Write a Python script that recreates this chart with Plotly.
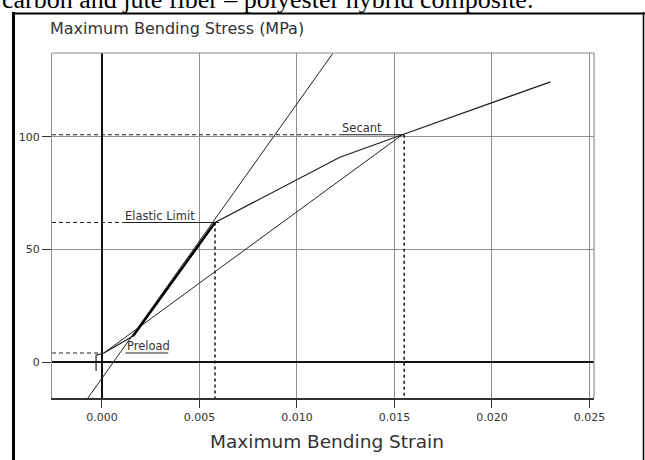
import plotly.graph_objects as go

# ---------------- data ----------------
curve_strain = [0.0001, 0.0016, 0.0058, 0.0100, 0.0122, 0.0154, 0.0230]
curve_stress = [4.0, 11.5, 62.0, 81.0, 91.0, 101.0, 124.5]

linear_strain = [0.0016, 0.0058]
linear_stress = [11.5, 62.0]

modulus_strain = [-0.00072, 0.01185]
modulus_stress = [-16.0, 137.3]

secant_strain = [0.0001, 0.0154]
secant_stress = [4.0, 101.0]

toe_strain = [-0.0003, -0.0003, 0.0001]
toe_stress = [-4.0, 3.0, 4.0]

point_names = ["Preload", "Elastic Limit", "Secant"]
point_strain = [0.0, 0.0058, 0.0155]
point_stress = [4.0, 62.0, 101.0]
label_start = [0.0012, 0.0011, 0.0122]
label_end = [0.0034, 0.0060, 0.0155]

x_ticks = [0.0, 0.005, 0.010, 0.015, 0.020, 0.025]
x_tick_text = ["0.000", "0.005", "0.010", "0.015", "0.020", "0.025"]
y_ticks = [0, 50, 100]
y_tick_text = ["0", "50", "100"]

x_range = [-0.00256, 0.025235]
y_range = [-16.0, 137.33]

caption = "carbon and jute fiber \u2013 polyester hybrid composite."
y_title = "Maximum Bending Stress (MPa)"
x_title = "Maximum Bending Strain"

# ---------------- layout helpers ----------------
W, H = 645, 460
L, R, T, B = 52, 51, 53, 62
PW, PH = W - L - R, H - T - B


def xp(px):
    return (px - L) / PW


def yp(py):
    return (H - B - py) / PH


INK = "#222222"
GRID = "#8f8f8f"
TXT = "#333333"

fig = go.Figure()

# guide lines for the marked points
for name, sx, sy, ls, le in zip(point_names, point_strain, point_stress, label_start, label_end):
    fig.add_trace(go.Scatter(x=[x_range[0], min(ls, sx)], y=[sy, sy], mode="lines",
                             line=dict(color=INK, width=1.2, dash="4px,3px"),
                             hoverinfo="skip", showlegend=False))
    fig.add_trace(go.Scatter(x=[ls, le], y=[sy, sy], mode="lines",
                             line=dict(color=INK, width=1.2),
                             hoverinfo="skip", showlegend=False))
    if name != "Preload":
        fig.add_trace(go.Scatter(x=[sx, sx], y=[sy, y_range[0]], mode="lines",
                                 line=dict(color=INK, width=1.6, dash="3px,3px"),
                                 hoverinfo="skip", showlegend=False))
    fig.add_annotation(x=ls, y=sy, xref="x", yref="y", text=name, showarrow=False,
                       xanchor="left", yanchor="bottom", yshift=-2,
                       font=dict(family="DejaVu Sans", size=11.5, color=TXT))

fig.add_trace(go.Scatter(x=modulus_strain, y=modulus_stress, mode="lines",
                         line=dict(color=INK, width=1), hoverinfo="skip", showlegend=False))
fig.add_trace(go.Scatter(x=secant_strain, y=secant_stress, mode="lines",
                         line=dict(color=INK, width=1), hoverinfo="skip", showlegend=False))
fig.add_trace(go.Scatter(x=curve_strain, y=curve_stress, mode="lines",
                         line=dict(color=INK, width=1.3), hoverinfo="skip", showlegend=False))
fig.add_trace(go.Scatter(x=linear_strain, y=linear_stress, mode="lines",
                         line=dict(color="#000000", width=2.4), hoverinfo="skip", showlegend=False))
fig.add_trace(go.Scatter(x=toe_strain, y=toe_stress, mode="lines",
                         line=dict(color=INK, width=1.2), hoverinfo="skip", showlegend=False))

fig.update_xaxes(range=x_range, tickvals=x_ticks, ticktext=x_tick_text,
                 ticks="outside", ticklen=8, tickwidth=1.2, tickcolor="#333",
                 showgrid=True, gridcolor=GRID, gridwidth=1,
                 zeroline=True, zerolinecolor="#111", zerolinewidth=1.6,
                 showline=True, linecolor="#333", linewidth=1.5,
                 tickfont=dict(family="DejaVu Sans", size=11, color=TXT))
fig.update_yaxes(range=y_range, tickvals=y_ticks, ticktext=y_tick_text,
                 ticks="outside", ticklen=9, tickwidth=1.2, tickcolor="#333",
                 showgrid=True, gridcolor=GRID, gridwidth=1,
                 zeroline=True, zerolinecolor="#111", zerolinewidth=1.6,
                 showline=True, linecolor=GRID, linewidth=1,
                 tickfont=dict(family="DejaVu Sans", size=11, color=TXT))

shapes = [
    # plot frame (top, right)
    dict(type="line", xref="paper", yref="paper", x0=0, x1=1, y0=1, y1=1,
         line=dict(color=GRID, width=1.2)),
    dict(type="line", xref="paper", yref="paper", x0=1, x1=1, y0=0, y1=1,
         line=dict(color=GRID, width=1.2)),
    # outer box of the figure
    dict(type="line", xref="paper", yref="paper", x0=xp(13.5), x1=xp(13.5), y0=yp(12), y1=yp(475),
         line=dict(color="#000", width=3)),
    dict(type="line", xref="paper", yref="paper", x0=xp(12), x1=xp(650), y0=yp(13.5), y1=yp(13.5),
         line=dict(color="#000", width=2)),
    dict(type="line", xref="paper", yref="paper", x0=xp(643.5), x1=xp(643.5), y0=yp(12), y1=yp(475),
         line=dict(color="#000", width=1.5)),
]

annotations = [
    dict(text=caption, xref="paper", yref="paper", x=xp(0), y=yp(-0.5), xanchor="left",
         yanchor="middle", showarrow=False,
         font=dict(family="Liberation Serif", size=26, color="#000")),
    dict(text=y_title, xref="paper", yref="paper", x=xp(48), y=yp(29), xanchor="left",
         yanchor="middle", showarrow=False,
         font=dict(family="DejaVu Sans", size=16, color=TXT)),
    dict(text=x_title, xref="paper", yref="paper", x=xp(327), y=yp(441), xanchor="center",
         yanchor="middle", showarrow=False,
         font=dict(family="DejaVu Sans", size=18.5, color=TXT)),
]

fig.update_layout(width=W, height=H, margin=dict(l=L, r=R, t=T, b=B, pad=0),
                  paper_bgcolor="white", plot_bgcolor="white",
                  shapes=shapes, annotations=list(fig.layout.annotations) + annotations,
                  showlegend=False)

fig.write_html("out.html", config={"displayModeBar": False},
               post_script="document.body.style.margin='0px';document.body.style.overflow='hidden';")
